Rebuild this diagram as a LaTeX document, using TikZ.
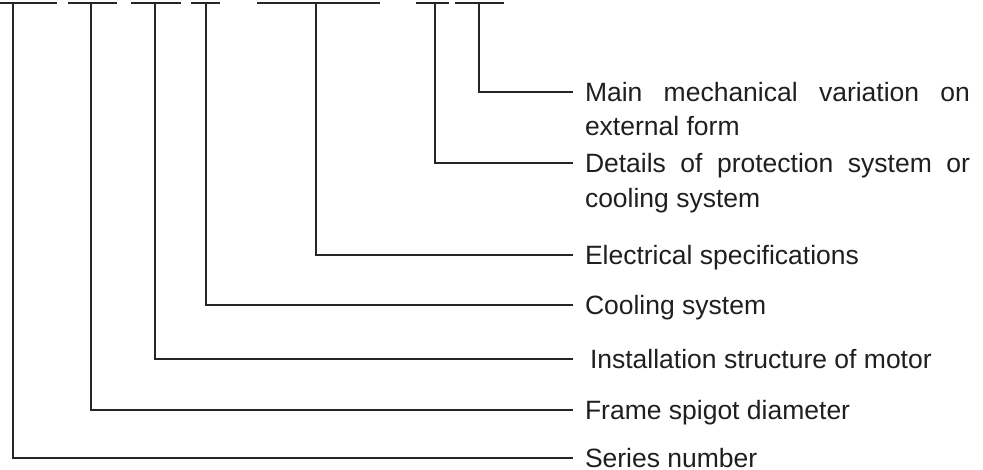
\documentclass[tikz,border=0pt]{standalone}
\usepackage{fontspec}
\setmainfont{Liberation Sans}
\begin{document}
\begin{tikzpicture}[x=1pt,y=-1pt,
  wire/.style={draw=black!85, line width=1.7pt},
  labeltext/.style={inner xsep=0pt, inner ysep=0pt, outer xsep=12pt, outer ysep=0pt,
    text height=19pt, text depth=0pt, anchor=west, text=black!88,
    font=\fontsize{26.5}{31}\selectfont}]
\useasboundingbox (0,0) rectangle (983,470);
% placeholder bars
\foreach \a/\b in {0/57,68/117,131/181,191/220,257/380,416/449,455/504}
  \draw[wire] (\a,3) -- (\b,3);
\coordinate (s1) at (13,3);
\coordinate (s2) at (91,3);
\coordinate (s3) at (155,3);
\coordinate (s4) at (206,3);
\coordinate (s5) at (316,3);
\coordinate (s6) at (435,3);
\coordinate (s7) at (479,3);
% labels
\node[labeltext] (l7) at (573,92) {\makebox[385pt][s]{Main mechanical variation on}};
\node[labeltext, anchor=base west] (l7b) at ([yshift=-34pt]l7.base west) {external form};
\node[labeltext] (l6) at (573,163) {\makebox[385pt][s]{Details of protection system or}};
\node[labeltext, anchor=base west] (l6b) at ([yshift=-35pt]l6.base west) {cooling system};
\node[labeltext] (l5) at (573,255) {Electrical specifications};
\node[labeltext] (l4) at (573,305) {Cooling system};
\node[labeltext, outer xsep=17pt] (l3) at (573,359) {Installation structure of motor};
\node[labeltext] (l2) at (573,410) {Frame spigot diameter};
\node[labeltext] (l1) at (573,458) {Series number};
% connectors
\draw[wire] (s7) |- (l7.west);
\draw[wire] (s6) |- (l6.west);
\draw[wire] (s5) |- (l5.west);
\draw[wire] (s4) |- (l4.west);
\draw[wire] (s3) |- (l3.west);
\draw[wire] (s2) |- (l2.west);
\draw[wire] (s1) |- (l1.west);
\end{tikzpicture}
\end{document}
